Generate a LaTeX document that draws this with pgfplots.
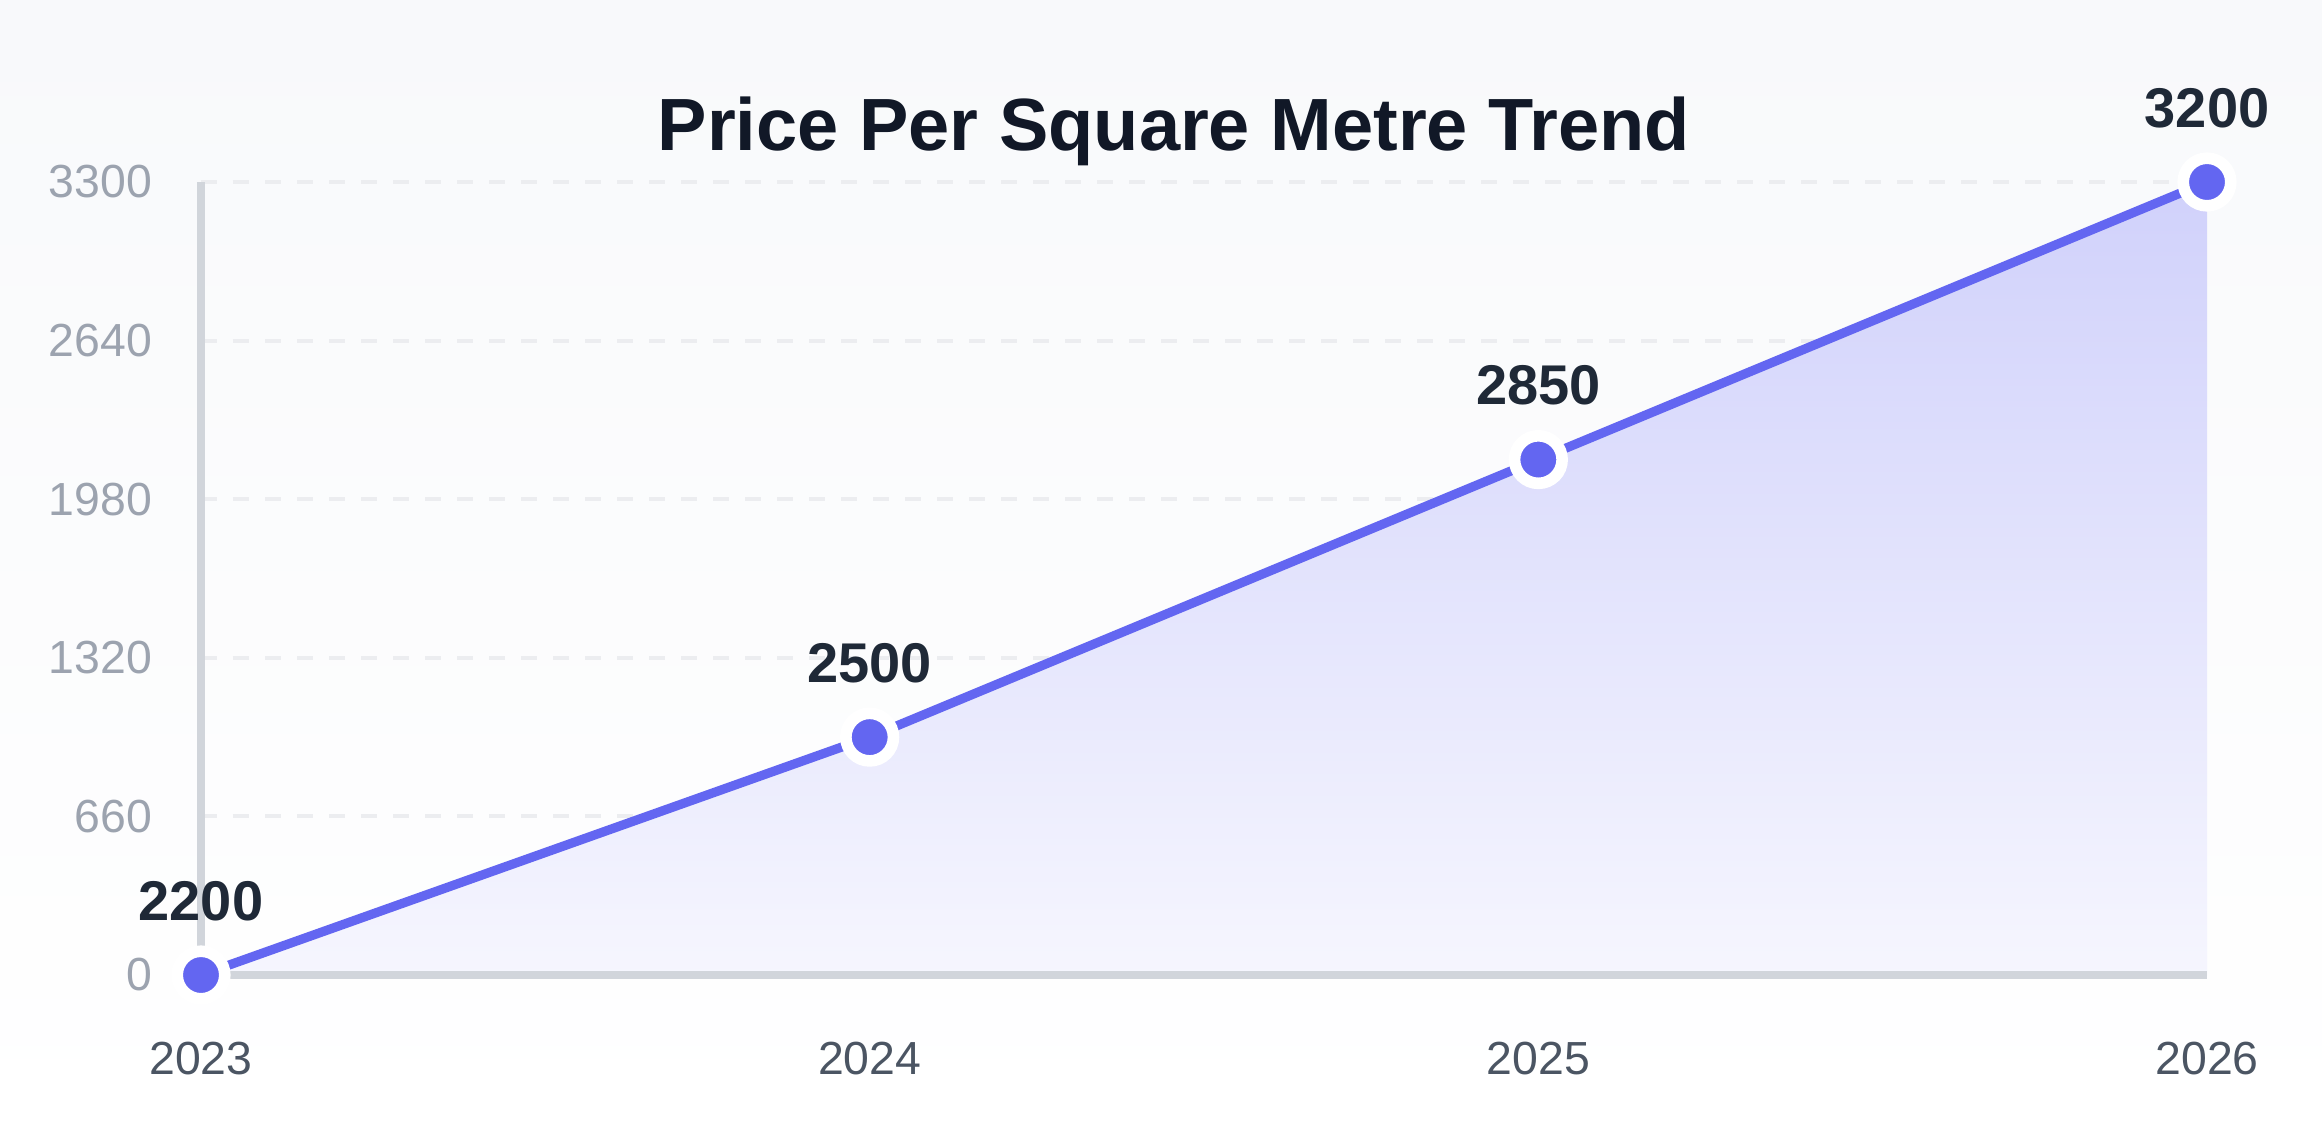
\documentclass[border=0pt]{standalone}
\usepackage{fontspec}
\setmainfont{Liberation Sans}
\usepackage{pgfplots}
\pgfplotsset{compat=1.18}

\definecolor{indigo}{HTML}{6366F1}
\definecolor{axisgray}{HTML}{D1D5DB}
\definecolor{gridgray}{HTML}{ECEDF0}
\definecolor{ticklab}{HTML}{9CA3AF}
\definecolor{xlab}{HTML}{4B5563}
\definecolor{valtext}{HTML}{1F2937}
\definecolor{titletext}{HTML}{111827}
\definecolor{bgtop}{HTML}{F8F9FB}

\begin{document}
\begin{tikzpicture}
% page background
\shade[top color=bgtop, bottom color=white] (0,0) rectangle (580.5pt,285pt);
\useasboundingbox (0,0) rectangle (580.5pt,285pt);

\node[font=\bfseries\fontsize{18.5}{22}\selectfont, text=titletext, anchor=base]
  at (293.5pt,247.5pt) {Price Per Square Metre Trend};

\begin{axis}[
  at={(50.25pt,41.25pt)}, anchor=south west,
  scale only axis, width=501.5pt, height=198.25pt,
  xmin=0, xmax=3, ymin=2200, ymax=3200,
  axis x line=bottom, axis y line=left,
  axis line style={draw=axisgray, line width=2pt, -},
  xtick={0,1,2,3}, xticklabels={2023,2024,2025,2026},
  ytick={2200,2400,2600,2800,3000,3200},
  yticklabels={0,660,1320,1980,2640,3300},
  major tick length=0pt,
  ymajorgrids,
  grid style={draw=gridgray, line width=1pt, dash pattern=on 4pt off 4pt},
  yticklabel style={text=ticklab, font=\fontsize{11.6}{14}\selectfont,
    anchor=east, inner sep=0pt, xshift=-12pt},
  xticklabel style={text=xlab, font=\fontsize{11.6}{14}\selectfont,
    anchor=north, inner sep=0pt, yshift=-16.5pt},
  clip=false,
]
% shaded area under the trend line
\addplot[draw=none, top color=indigo!30!white, bottom color=indigo!6!white]
  coordinates {(0,2200) (1,2500) (2,2850) (3,3200) (3,2200)} -- cycle;

% baseline redrawn over the shaded area
\addplot[axisgray, line width=2pt, forget plot] coordinates {(0,2200) (3,2200)};

% trend line with value labels
\addplot[indigo, line width=2.3pt,
  mark=*, mark size=5.95pt,
  mark options={draw=white, fill=indigo, line width=2.9pt},
  point meta=y,
  nodes near coords={\pgfmathprintnumber[assume math mode=true,1000 sep={}]{\pgfplotspointmeta}},
  every node near coord/.append style={anchor=base, yshift=13.75pt, inner sep=0pt,
    font=\bfseries\fontsize{14}{16}\selectfont, text=valtext},
] coordinates {(0,2200) (1,2500) (2,2850) (3,3200)};
\end{axis}
\end{tikzpicture}
\end{document}
